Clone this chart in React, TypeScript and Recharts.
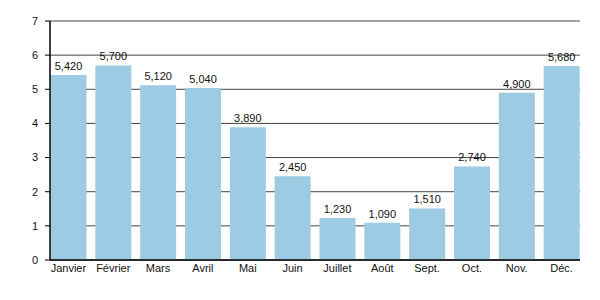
import { BarChart, Bar, XAxis, YAxis, CartesianGrid, LabelList } from "recharts";

const months = ["Janvier", "Février", "Mars", "Avril", "Mai", "Juin", "Juillet", "Août", "Sept.", "Oct.", "Nov.", "Déc."];
const values = [5420, 5700, 5120, 5040, 3890, 2450, 1230, 1090, 1510, 2740, 4900, 5680];
const yTicks = [0, 1000, 2000, 3000, 4000, 5000, 6000, 7000];

const data = months.map((month, i) => ({ month, value: values[i] }));

const font = { fontSize: 11, fill: "#111", fontFamily: "Liberation Sans, Arial, sans-serif" };

export default function App() {
  return (
    <div style={{ position: "absolute", top: 0, left: 0, width: 600, height: 300, background: "#fff" }}>
      <BarChart width={600} height={300} data={data} margin={{ top: 21, right: 20, bottom: 10, left: 0 }} barCategoryGap={4.5}>
        <CartesianGrid vertical={false} stroke="#444" strokeWidth={1} />
        <XAxis
          dataKey="month"
          height={30}
          tick={font}
          tickLine={false}
          tickSize={0}
          tickMargin={4}
          axisLine={{ stroke: "#000", strokeWidth: 1.5 }}
          padding={{ left: -4, right: -4 }}
        />
        <YAxis
          width={50}
          domain={[0, 7000]}
          ticks={yTicks}
          tickFormatter={(v: number) => String(v / 1000)}
          tick={font}
          tickSize={5}
          tickMargin={7}
          tickLine={{ stroke: "#000" }}
          axisLine={{ stroke: "#000", strokeWidth: 1.5 }}
        />
        <Bar dataKey="value" fill="#9ccbe3" isAnimationActive={false}>
          <LabelList
            dataKey="value"
            position="top"
            offset={5}
            formatter={(v: number) => v.toLocaleString("en-US")}
            style={font}
          />
        </Bar>
      </BarChart>
    </div>
  );
}
